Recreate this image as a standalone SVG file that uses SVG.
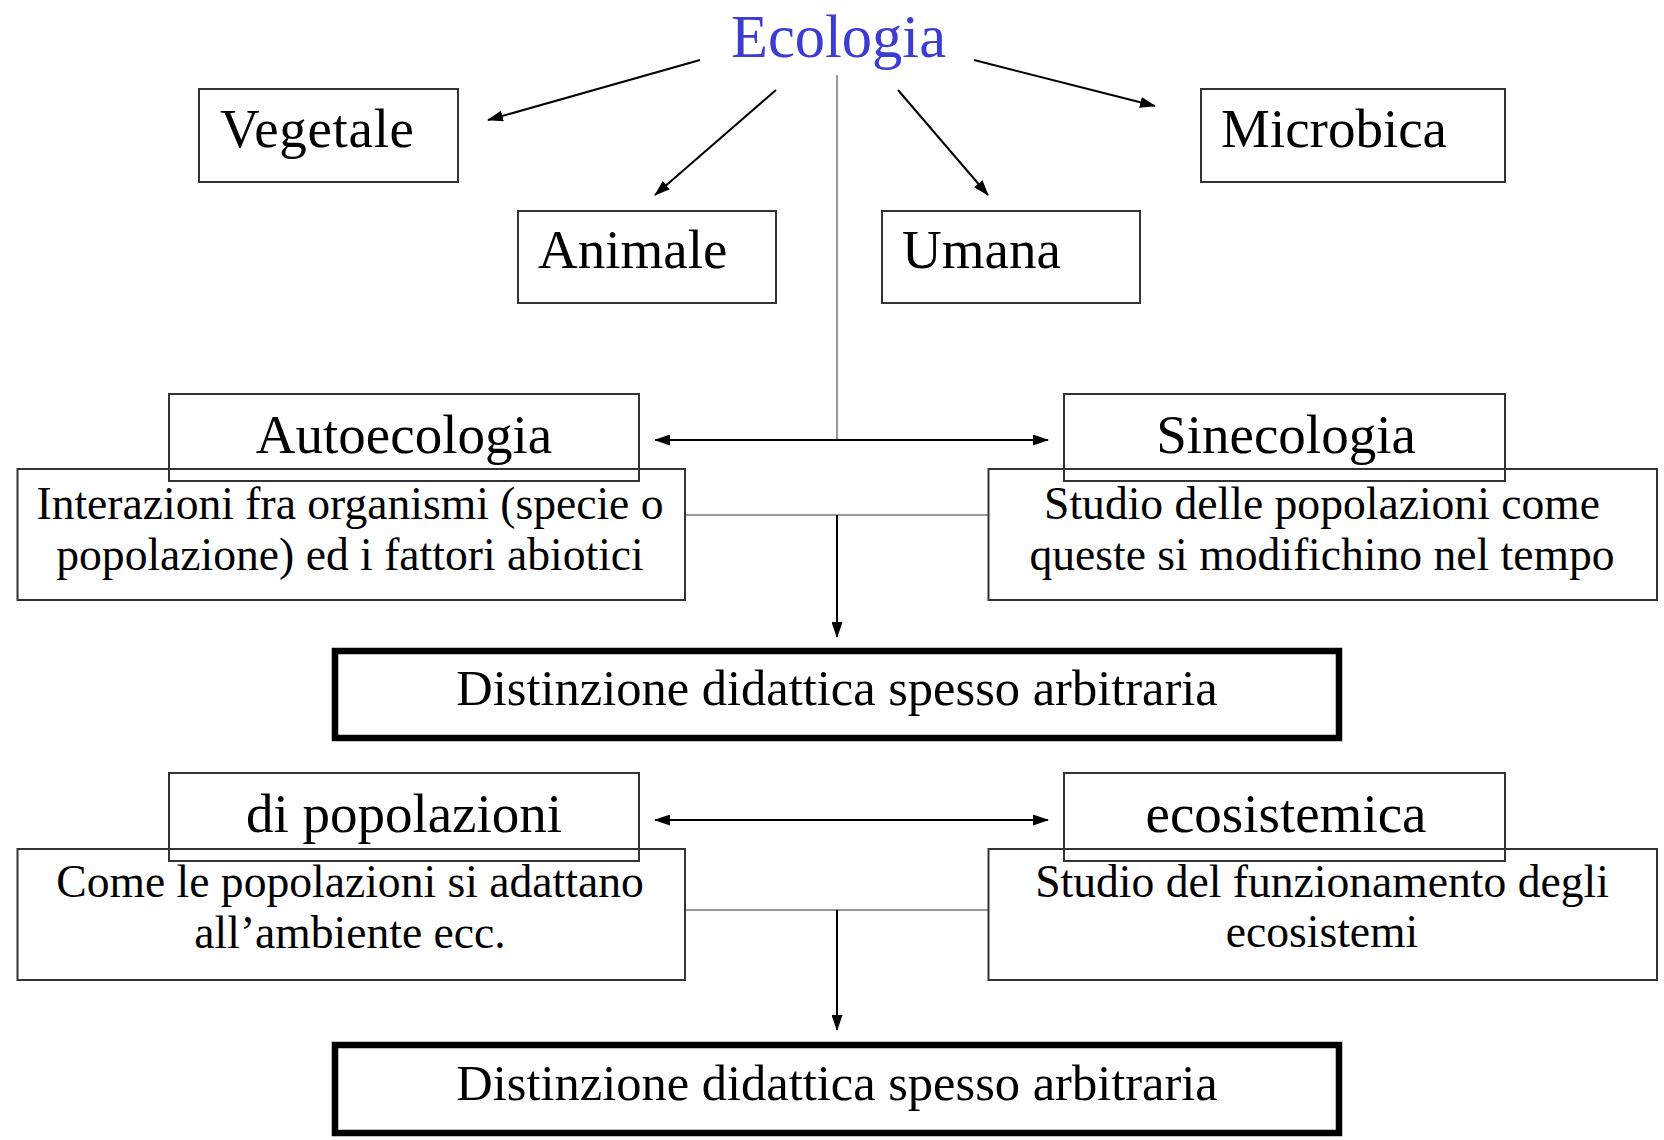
<svg xmlns="http://www.w3.org/2000/svg" width="1664" height="1140" viewBox="0 0 1664 1140">
<defs>
<marker id="ah" viewBox="0 0 16 11" refX="15" refY="5.5" markerWidth="16" markerHeight="11" markerUnits="userSpaceOnUse" orient="auto-start-reverse">
<path d="M0,0 L16,5.5 L0,11 z" fill="#000"/>
</marker>
<style>
text{font-family:"Liberation Serif","Times New Roman",serif;fill:#000}
.box{fill:none;stroke:#333;stroke-width:2}
.bold{fill:none;stroke:#000;stroke-width:6.5}
.t54{font-size:55px}
.t55{font-size:55px;text-anchor:middle}
.t45{font-size:45.6px;text-anchor:middle}
.t50{font-size:50.5px;text-anchor:middle}
.arr{stroke:#000;stroke-width:2;fill:none}
.gray{stroke:#999;stroke-width:2;fill:none}
</style>
</defs>
<rect width="1664" height="1140" fill="#fff"/>
<g id="connectors">
<line class="arr" x1="700" y1="60" x2="488" y2="120" marker-end="url(#ah)"/>
<line class="arr" x1="776" y1="90" x2="655" y2="195" marker-end="url(#ah)"/>
<line class="arr" x1="898" y1="90" x2="988" y2="195" marker-end="url(#ah)"/>
<line class="arr" x1="974" y1="60" x2="1155" y2="106" marker-end="url(#ah)"/>
<line class="gray" x1="837" y1="75" x2="837" y2="440"/>
<line class="arr" x1="655" y1="440" x2="1048" y2="440" marker-start="url(#ah)" marker-end="url(#ah)"/>
<line class="gray" x1="685" y1="515" x2="988" y2="515"/>
<line class="arr" x1="837" y1="515" x2="837" y2="637" marker-end="url(#ah)"/>
<line class="arr" x1="655" y1="820" x2="1048" y2="820" marker-start="url(#ah)" marker-end="url(#ah)"/>
<line class="gray" x1="685" y1="910" x2="988" y2="910"/>
<line class="arr" x1="837" y1="910" x2="837" y2="1030" marker-end="url(#ah)"/>
</g>
<g id="ecologia">
<text x="731" y="57" style="font-size:60.5px;fill:#3c3cd2">Ecologia</text>
</g>
<g id="vegetale">
<rect class="box" x="199" y="89" width="259" height="93"/>
<text class="t54" x="220" y="147" textLength="194">Vegetale</text>
</g>
<g id="animale">
<rect class="box" x="518" y="211" width="258" height="92"/>
<text class="t54" x="538" y="268">Animale</text>
</g>
<g id="umana">
<rect class="box" x="882" y="211" width="258" height="92"/>
<text class="t54" x="902" y="268">Umana</text>
</g>
<g id="microbica">
<rect class="box" x="1201" y="89" width="304" height="93"/>
<text class="t54" x="1221" y="147">Microbica</text>
</g>
<g id="autoecologia">
<rect class="box" x="169" y="394" width="470" height="87"/>
<text class="t55" x="404" y="453">Autoecologia</text>
</g>
<g id="autoecologia-desc">
<rect class="box" x="17.5" y="469" width="667.5" height="131"/>
<text class="t45" x="350" y="519">Interazioni fra organismi (specie o</text>
<text class="t45" x="350" y="570">popolazione) ed i fattori abiotici</text>
</g>
<g id="sinecologia">
<rect class="box" x="1064" y="394" width="441" height="87"/>
<text class="t55" x="1286" y="453">Sinecologia</text>
</g>
<g id="sinecologia-desc">
<rect class="box" x="988.5" y="469" width="668.5" height="131"/>
<text class="t45" x="1322" y="519">Studio delle popolazioni come</text>
<text class="t45" x="1322" y="570">queste si modifichino nel tempo</text>
</g>
<g id="distinzione1">
<rect class="bold" x="335" y="651" width="1004" height="87"/>
<text class="t50" x="837" y="705">Distinzione didattica spesso arbitraria</text>
</g>
<g id="popolazioni">
<rect class="box" x="169" y="773" width="470" height="88"/>
<text class="t55" x="404" y="832">di popolazioni</text>
</g>
<g id="popolazioni-desc">
<rect class="box" x="17.5" y="849" width="667.5" height="131"/>
<text class="t45" x="350" y="897">Come le popolazioni si adattano</text>
<text class="t45" x="350" y="948">all’ambiente ecc.</text>
</g>
<g id="ecosistemica">
<rect class="box" x="1064" y="773" width="441" height="88"/>
<text class="t55" x="1286" y="832">ecosistemica</text>
</g>
<g id="ecosistemica-desc">
<rect class="box" x="988.5" y="849" width="668.5" height="131"/>
<text class="t45" x="1322" y="897">Studio del funzionamento degli</text>
<text class="t45" x="1322" y="947">ecosistemi</text>
</g>
<g id="distinzione2">
<rect class="bold" x="335" y="1045" width="1004" height="88"/>
<text class="t50" x="837" y="1100">Distinzione didattica spesso arbitraria</text>
</g>
</svg>
